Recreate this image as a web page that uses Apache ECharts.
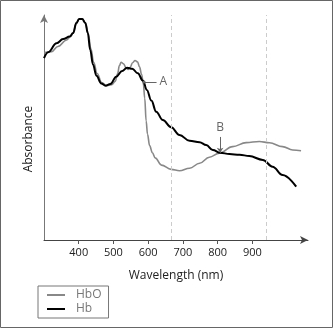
<!DOCTYPE html>
<html>
<head>
<meta charset="utf-8">
<script src="https://cdn.jsdelivr.net/npm/echarts@6/dist/echarts.min.js"></script>
<style>
  html, body { margin: 0; padding: 0; background: #fff; }
  #chart { width: 333px; height: 328px; }
</style>
</head>
<body>
<div id="chart"></div>
<script>
// Absorption spectra of oxygenated (HbO) and deoxygenated (Hb) haemoglobin
const hboWavelength = [300, 322, 340, 365, 376, 384, 393, 401, 410, 419, 427, 435, 443, 453, 466, 480, 495, 505, 512, 517, 522, 529, 536, 542, 548, 555, 562, 569, 575, 581, 586, 590, 594, 598, 604, 612, 620, 638, 666, 690, 719, 748, 776, 805, 843, 882, 920, 949, 987, 1016, 1040];
const hboAbsorbance = [83.3, 83.7, 86, 88.9, 90.4, 92, 96.4, 98.2, 98.2, 96.5, 92, 85, 79, 74, 70, 68.6, 69, 70.5, 74, 77.5, 79, 78.3, 76.5, 75.8, 76.8, 78.8, 79.8, 79.2, 77, 73.5, 69.5, 63, 53, 47, 42, 38.8, 36.5, 33.3, 31.4, 30.8, 31.9, 34.1, 36.8, 38.6, 41.5, 43.3, 43.8, 43.2, 41.5, 40, 39.7];

const hbWavelength = [300, 312, 336, 355, 374, 384, 393, 401, 410, 419, 426, 433, 441, 451, 465, 477, 491, 508, 525, 539, 554, 570, 585, 596, 609, 623, 642, 666, 690, 719, 748, 767, 786, 807, 834, 863, 891, 930, 958, 987, 1026];
const hbAbsorbance = [80.8, 83.5, 87.4, 89.3, 90.4, 92, 96.4, 98.2, 98.2, 96.5, 92, 84.5, 78, 73, 69.6, 68.6, 69.3, 72.6, 75.1, 76.6, 76.1, 74.1, 70.8, 66.7, 62, 57, 53.3, 50.1, 46.7, 44.1, 43.4, 42.2, 40, 38.8, 38.2, 37.9, 37.3, 35.6, 32.6, 28.9, 23.7];

// Tick labels on the wavelength axis
const xTicks = [400, 500, 600, 700, 800, 900];
// Dashed reference wavelengths
const guideWavelengths = [665, 940];
// Crossing points of the two spectra
const pointA = [588, 70.2];
const pointB = [807, 38.8];

const FONT = '"Open Sans", "Liberation Sans", sans-serif';

const zip = (xs, ys) => xs.map((x, i) => [x, ys[i]]);

const chart = echarts.init(document.getElementById('chart'), null, { renderer: 'canvas' });

chart.setOption({
  animation: false,
  backgroundColor: '#fff',
  grid: { left: 44, right: 25, top: 15, bottom: 88 },
  xAxis: {
    type: 'value',
    min: 300,
    max: 1060,
    name: 'Wavelength (nm)',
    nameLocation: 'middle',
    nameGap: 30,
    nameTextStyle: { fontFamily: FONT, fontSize: 12, color: '#222' },
    axisLine: {
      lineStyle: { color: '#444', width: 1 },
      symbol: ['none', 'arrow'],
      symbolSize: [6, 8]
    },
    axisTick: { show: true, customValues: xTicks, length: 4, lineStyle: { color: '#555' } },
    axisLabel: { customValues: xTicks, fontFamily: FONT, fontSize: 11, color: '#222', margin: 7 },
    splitLine: { show: false }
  },
  yAxis: {
    type: 'value',
    min: 0,
    max: 100,
    axisLine: {
      show: true,
      lineStyle: { color: '#777', width: 1 },
      symbol: ['none', 'arrow'],
      symbolSize: [6, 8]
    },
    axisTick: { show: false },
    axisLabel: { show: false },
    splitLine: { show: false }
  },
  legend: {
    orient: 'vertical',
    left: 38,
    top: 286,
    data: ['HbO', 'Hb'],
    icon: 'rect',
    itemWidth: 18,
    itemHeight: 2,
    itemGap: 0,
    padding: [2, 7, 2, 9],
    borderColor: '#777',
    borderWidth: 1,
    textStyle: { fontFamily: FONT, fontSize: 12, color: '#777', lineHeight: 14, padding: [0, 0, 0, 6] }
  },
  graphic: [
    {
      type: 'rect',
      shape: { x: 0.5, y: 0.5, width: 332, height: 327 },
      style: { fill: 'none', stroke: '#666', lineWidth: 1 },
      silent: true
    },
    {
      type: 'text',
      x: 29,
      y: 139,
      rotation: Math.PI / 2,
      style: {
        text: 'Absorbance',
        fontFamily: FONT,
        fontSize: 12,
        fill: '#222',
        align: 'center',
        verticalAlign: 'middle'
      }
    }
  ],
  series: [
    {
      name: 'HbO',
      type: 'line',
      data: zip(hboWavelength, hboAbsorbance),
      showSymbol: false,
      smooth: 0.4,
      smoothMonotone: 'x',
      lineStyle: { color: '#888', width: 1.6 },
      itemStyle: { color: '#888' },
      z: 2,
      markLine: {
        silent: true,
        symbol: 'none',
        label: { show: false },
        lineStyle: { color: '#ccc', type: [4, 3], width: 1 },
        data: guideWavelengths.map(v => ({ xAxis: v }))
      }
    },
    {
      name: 'Hb',
      type: 'line',
      data: zip(hbWavelength, hbAbsorbance),
      showSymbol: false,
      smooth: 0.4,
      smoothMonotone: 'x',
      lineStyle: { color: '#000', width: 2 },
      itemStyle: { color: '#000' },
      z: 3,
      markLine: {
        silent: true,
        animation: false,
        label: { show: true, fontFamily: FONT, fontSize: 12, color: '#666', distance: 3 },
        lineStyle: { color: '#666', type: 'solid', width: 1 },
        data: [
          [
            { coord: pointA, symbol: 'circle', symbolSize: 3, label: { formatter: 'A' } },
            { coord: [pointA[0] + 36, pointA[1]], symbol: 'none' }
          ],
          [
            { coord: [pointB[0], pointB[1] + 7], symbol: 'none', label: { formatter: 'B', position: 'start' } },
            { coord: pointB, symbol: 'arrow', symbolSize: 5 }
          ]
        ]
      }
    }
  ]
});
</script>
</body>
</html>
